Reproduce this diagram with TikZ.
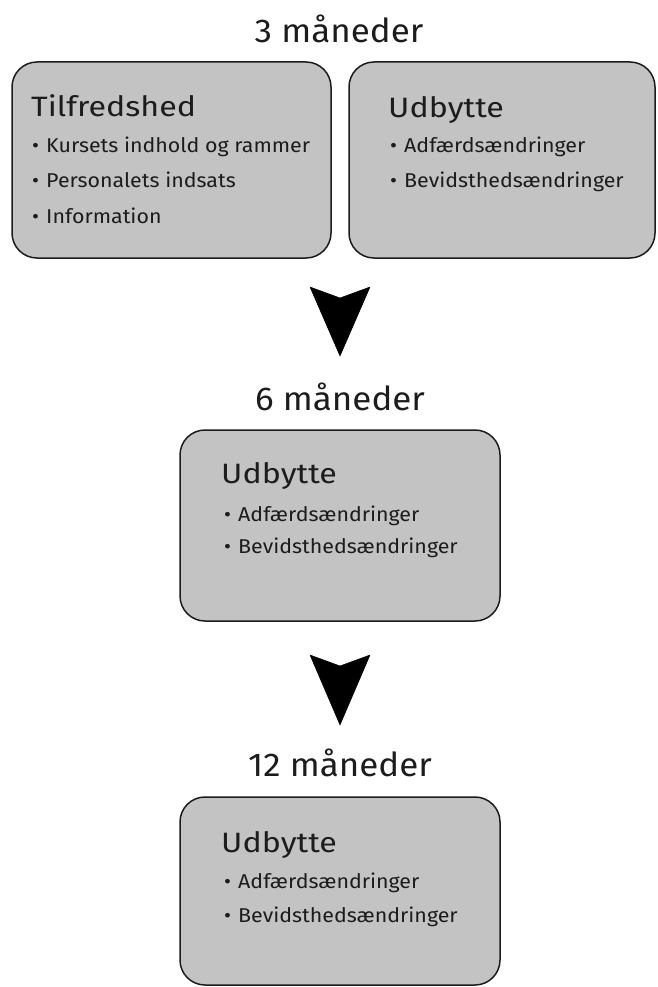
\documentclass[tikz,border=0pt]{standalone}
\usepackage{fontspec}
\setmainfont{Fira Sans}
\newfontfamily\titlefont[FakeStretch=1.06]{Fira Sans}
\newfontfamily\headfont[FakeStretch=1.15]{Fira Sans}
\newfontfamily\itemfont[FakeStretch=1.07]{Fira Sans}
\definecolor{boxgray}{HTML}{C3C3C3}
\definecolor{ink}{HTML}{1C1C1C}
\tikzset{
  x=1pt, y=1pt,
  panel/.style={draw=ink, line width=1.5pt, fill=boxgray, rounded corners=25pt},
  period/.style={anchor=base, font=\titlefont\fontsize{33}{36}\selectfont, text=ink, inner sep=0pt},
  heading/.style={anchor=base west, font=\headfont\fontsize{28}{30}\selectfont, text=ink, inner sep=0pt},
  item/.style={anchor=base west, font=\itemfont\fontsize{20}{22}\selectfont, text=ink, inner sep=0pt},
  dart/.style={fill=black, draw=black, line width=0.5pt, line join=round}
}
\newcommand{\bl}[1]{\makebox[14pt][l]{\textbullet}#1}
\begin{document}
\begin{tikzpicture}
\useasboundingbox (0,0) rectangle (657,-987);
% titles
\node[period] (t3) at (339,-43) {3 måneder};
\node[period] (t6) at (340,-410) {6 måneder};
\node[period] (t12) at (340,-776) {12 måneder};
% panels
\draw[panel] (12,-62) rectangle (331,-258);
\draw[panel] (349,-62) rectangle (655,-258);
\draw[panel] (180,-430) rectangle (500,-621);
\draw[panel] (180,-797) rectangle (500,-985);
% box 1
\node[heading] (h1) at (31,-117) {Tilfredshed};
\node[item] (a1) at (32,-153) {\bl{Kursets indhold og rammer}};
\node[item] (a2) at (32,-188) {\bl{Personalets indsats}};
\node[item] (a3) at (32,-223) {\bl{Information}};
% box 2
\node[heading] (h2) at (388,-118) {Udbytte};
\node[item] (b1) at (390,-153) {\bl{Adfærdsændringer}};
\node[item] (b2) at (390,-188) {\bl{Bevidsthedsændringer}};
% box 3
\node[heading] (h3) at (221,-483) {Udbytte};
\node[item] (c1) at (224,-521) {\bl{Adfærdsændringer}};
\node[item] (c2) at (224,-553) {\bl{Bevidsthedsændringer}};
% box 4
\node[heading] (h4) at (221,-852) {Udbytte};
\node[item] (d1) at (224,-888) {\bl{Adfærdsændringer}};
\node[item] (d2) at (224,-922) {\bl{Bevidsthedsændringer}};
% darts
\coordinate (p1l) at (310,-287);
\coordinate (p1n) at (340,-298);
\coordinate (p1r) at (370,-287);
\coordinate (p1t) at (340,-356);
\fill[dart] (p1l) -- (p1n) -- (p1r) -- (p1t) -- cycle;
\coordinate (p2l) at (310,-655);
\coordinate (p2n) at (340,-666);
\coordinate (p2r) at (370,-655);
\coordinate (p2t) at (340,-725);
\fill[dart] (p2l) -- (p2n) -- (p2r) -- (p2t) -- cycle;
\end{tikzpicture}
\end{document}
